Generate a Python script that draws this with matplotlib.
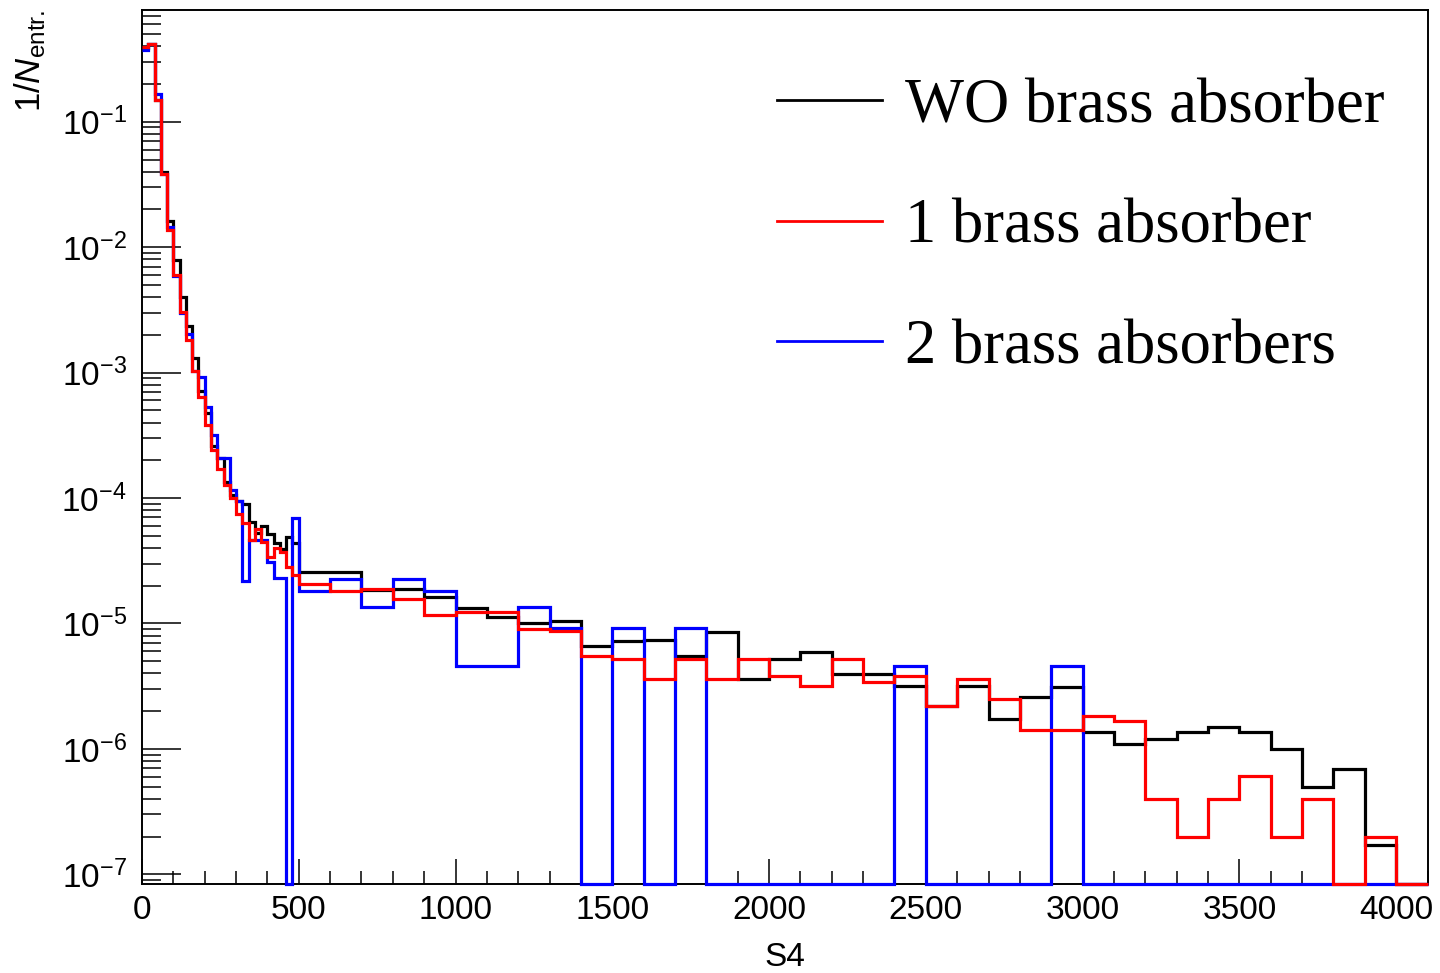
import numpy as np
import matplotlib
matplotlib.use('Agg')
import matplotlib.pyplot as plt
from matplotlib.ticker import MultipleLocator, LogLocator, NullFormatter, LogFormatterSciNotation

# S4 binning: 20 wide up to 500, then 100 wide up to 4100
fine_edges = list(range(0, 501, 20))
coarse_edges = list(range(600, 4101, 100))

# normalised entries per bin
wo_fine = [0.39, 0.42, 0.15, 0.0399, 0.0161, 0.0079, 0.0040, 0.00235, 0.0013, 0.00072,
           0.00048, 0.00026, 0.00021, 1.35e-4, 1.05e-4, 9.5e-5, 9.0e-5, 6.5e-5, 5.3e-5, 6.0e-5,
           5.2e-5, 4.4e-5, 3.9e-5, 4.9e-5, 4.4e-5]
wo_coarse = [2.58e-5, 2.58e-5, 1.85e-5, 1.87e-5, 1.63e-5, 1.34e-5, 1.13e-5, 1.0e-5, 1.05e-5, 6.6e-6,
             7.2e-6, 7.4e-6, 5.5e-6, 8.5e-6, 3.6e-6, 5.2e-6, 5.9e-6, 3.97e-6, 3.97e-6, 3.2e-6,
             2.2e-6, 3.2e-6, 1.73e-6, 2.6e-6, 3.13e-6, 1.37e-6, 1.1e-6, 1.2e-6, 1.37e-6, 1.5e-6,
             1.37e-6, 1.0e-6, 5.0e-7, 6.9e-7, 1.7e-7, 0]

one_fine = [0.396, 0.42, 0.149, 0.0383, 0.01368, 0.0060, 0.00305, 0.00182, 0.00103, 0.00064,
            0.00038, 2.41e-4, 1.69e-4, 1.27e-4, 1.0e-4, 7.5e-5, 6.3e-5, 4.6e-5, 5.7e-5, 4.5e-5,
            3.4e-5, 4.0e-5, 3.7e-5, 2.8e-5, 2.45e-5]
one_coarse = [2.08e-5, 1.82e-5, 1.87e-5, 1.57e-5, 1.17e-5, 1.24e-5, 1.24e-5, 9.0e-6, 8.7e-6, 5.5e-6,
              5.2e-6, 3.6e-6, 5.2e-6, 3.6e-6, 5.2e-6, 3.8e-6, 3.2e-6, 5.2e-6, 3.4e-6, 3.8e-6,
              2.2e-6, 3.6e-6, 2.5e-6, 1.42e-6, 1.42e-6, 1.83e-6, 1.66e-6, 4.0e-7, 2.0e-7, 4.0e-7,
              6.1e-7, 2.0e-7, 4.0e-7, 0, 2.0e-7, 0]

two_fine = [0.373, 0.42, 0.165, 0.038, 0.01455, 0.0059, 0.0030, 0.00203, 0.00103, 0.00092,
            0.000535, 3.2e-4, 2.07e-4, 2.07e-4, 1.16e-4, 9.5e-5, 2.2e-5, 4.6e-5, 4.6e-5, 4.6e-5,
            3.1e-5, 2.3e-5, 2.3e-5, 0, 6.9e-5]
two_coarse = [1.82e-5, 2.27e-5, 1.35e-5, 2.27e-5, 1.82e-5, 4.6e-6, 4.6e-6, 1.35e-5, 9.2e-6, 0,
              9.2e-6, 0, 9.2e-6, 0, 0, 0, 0, 0, 0, 4.6e-6,
              0, 0, 0, 0, 4.6e-6, 0, 0, 0, 0, 0,
              0, 0, 0, 0, 0, 0]

labels = ['WO brass absorber', '1 brass absorber', '2 brass absorbers']
colors = ['black', 'red', 'blue']

plt.rcParams['font.family'] = ['Liberation Sans', 'DejaVu Sans']
plt.rcParams['mathtext.fontset'] = 'custom'
plt.rcParams['mathtext.rm'] = 'Liberation Sans'
plt.rcParams['mathtext.it'] = 'Liberation Sans:italic'

ymin, ymax = 8.45e-8, 0.778
edges = np.array(fine_edges + coarse_edges, dtype=float)
series = [wo_fine + wo_coarse, one_fine + one_coarse, two_fine + two_coarse]

fig = plt.figure(figsize=(14.4, 9.73), dpi=100)
ax = fig.add_axes([142 / 1440, 1 - 883.5 / 973, 1285.5 / 1440, 873.5 / 973])

for vals, col, lab, z in zip(series, colors, labels, [2, 4, 3]):
    v = np.array(vals, dtype=float)
    v = np.maximum(v, ymin)  # empty bins sit on the lower frame, like ROOT does
    ax.stairs(v, edges, color=col, lw=2.3, baseline=None, zorder=z, clip_on=False)

ax.set_yscale('log')
ax.set_xlim(0, 4100)
ax.set_ylim(ymin, ymax)

ax.xaxis.set_major_locator(MultipleLocator(500))
ax.xaxis.set_minor_locator(MultipleLocator(100))
ax.yaxis.set_major_locator(LogLocator(base=10, numticks=20))
ax.yaxis.set_minor_locator(LogLocator(base=10, subs=np.arange(2, 10), numticks=20))
ax.yaxis.set_minor_formatter(NullFormatter())
ax.yaxis.set_major_formatter(LogFormatterSciNotation())

ax.tick_params(which='both', direction='in', top=False, right=False, width=1.1, labelsize=24)
ax.tick_params(axis='x', which='major', length=18, pad=8)
ax.tick_params(axis='x', which='minor', length=9.5)
ax.tick_params(axis='y', which='major', length=28, pad=11)
ax.tick_params(axis='y', which='minor', length=14)
for sp in ax.spines.values():
    sp.set_linewidth(1.4)

ax.set_xlabel('S4', fontsize=24, labelpad=12)
fig.text(30 / 1440, 1 - 10 / 973, r'$1/N_{\mathrm{entr.}}$', rotation=90,
         ha='center', va='top', fontsize=25)

leg_lines = [plt.Line2D([], [], color=c, lw=2.0) for c in colors]
ax.legend(leg_lines, labels, loc='upper left', bbox_to_anchor=(0.494, 0.922),
          frameon=False, prop={'family': 'Liberation Serif', 'size': 45},
          handlelength=1.68, handletextpad=0.36, labelspacing=1.0,
          borderpad=0, borderaxespad=0)

fig.savefig('out.png', dpi=100)
